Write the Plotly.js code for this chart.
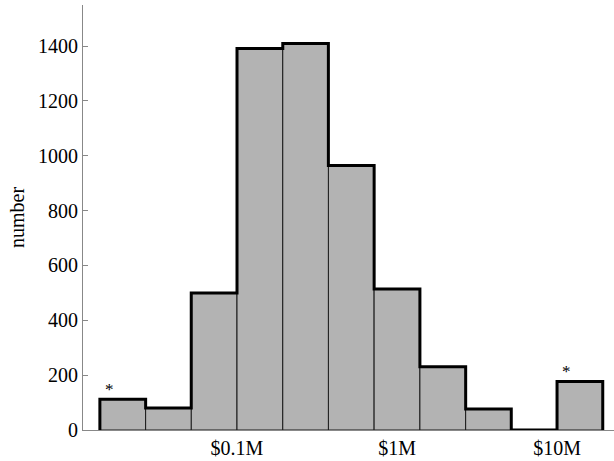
<!DOCTYPE html>
<html>
<head>
<meta charset="utf-8">
<script src="https://cdn.plot.ly/plotly-3.0.1.min.js"></script>
<style>
html, body { margin: 0; padding: 0; background: #ffffff; }
#chart { width: 614px; height: 461px; }
</style>
</head>
<body>
<div id="chart"></div>
<script>
// Histogram bins on log10(dollars) scale: bin left edges (log10 $), counts
var binLeftLog10 = [4.143, 4.429, 4.714, 5.0, 5.286, 5.571, 5.857, 6.143, 6.429, 6.714, 7.0];
var binWidthLog10 = 0.2857;
var counts = [112, 80, 500, 1391, 1410, 965, 514, 231, 77, 0, 177];
var starredBins = [0, 10];
var tickValsLog10 = [5, 6, 7];
var tickLabels = ['$0.1M', '$1M', '$10M'];

var centers = binLeftLog10.map(function (e) { return e + binWidthLog10 / 2; });
var lastEdge = binLeftLog10[binLeftLog10.length - 1] + binWidthLog10;

// step outline
var ox = [binLeftLog10[0]].concat(binLeftLog10, [lastEdge]);
var oy = [0].concat(counts, [0]);

var bars = {
  type: 'bar',
  x: centers,
  y: counts,
  width: binWidthLog10,
  marker: { color: '#b3b3b3', line: { color: '#1a1a1a', width: 1 } },
  hoverinfo: 'skip',
  showlegend: false
};
var outline = {
  type: 'scatter',
  mode: 'lines',
  x: ox,
  y: oy,
  line: { color: '#000000', width: 3, shape: 'hv' },
  hoverinfo: 'skip',
  showlegend: false
};

var annotations = starredBins.map(function (i) {
  return {
    x: binLeftLog10[i] + 0.06,
    y: counts[i],
    xref: 'x', yref: 'y',
    text: '*',
    showarrow: false,
    xanchor: 'center',
    yanchor: 'bottom',
    yshift: -2,
    font: { family: 'Liberation Serif, serif', size: 17, color: '#000' }
  };
});

var layout = {
  width: 614,
  height: 461,
  margin: { l: 83, r: 0, t: 5, b: 31, pad: 0 },
  paper_bgcolor: '#ffffff',
  plot_bgcolor: '#ffffff',
  font: { family: 'Liberation Serif, serif', size: 20, color: '#000' },
  bargap: 0,
  showlegend: false,
  xaxis: {
    type: 'linear',
    range: [4.0375, 7.356],
    tickmode: 'array',
    tickvals: tickValsLog10,
    ticktext: tickLabels,
    ticks: '',
    showgrid: false,
    zeroline: false,
    showline: true,
    linecolor: '#888888',
    linewidth: 1,
    tickfont: { size: 20 }
  },
  yaxis: {
    range: [0, 1550],
    tickmode: 'array',
    tickvals: [0, 200, 400, 600, 800, 1000, 1200, 1400],
    ticks: 'inside',
    ticklen: 5,
    tickcolor: '#888888',
    showgrid: false,
    zeroline: false,
    showline: true,
    linecolor: '#888888',
    linewidth: 1,
    tickfont: { size: 20 },
    title: { text: 'number', font: { size: 20 }, standoff: 8 }
  },
  annotations: annotations
};

Plotly.newPlot('chart', [bars, outline], layout, { displayModeBar: false, staticPlot: true });
</script>
</body>
</html>
